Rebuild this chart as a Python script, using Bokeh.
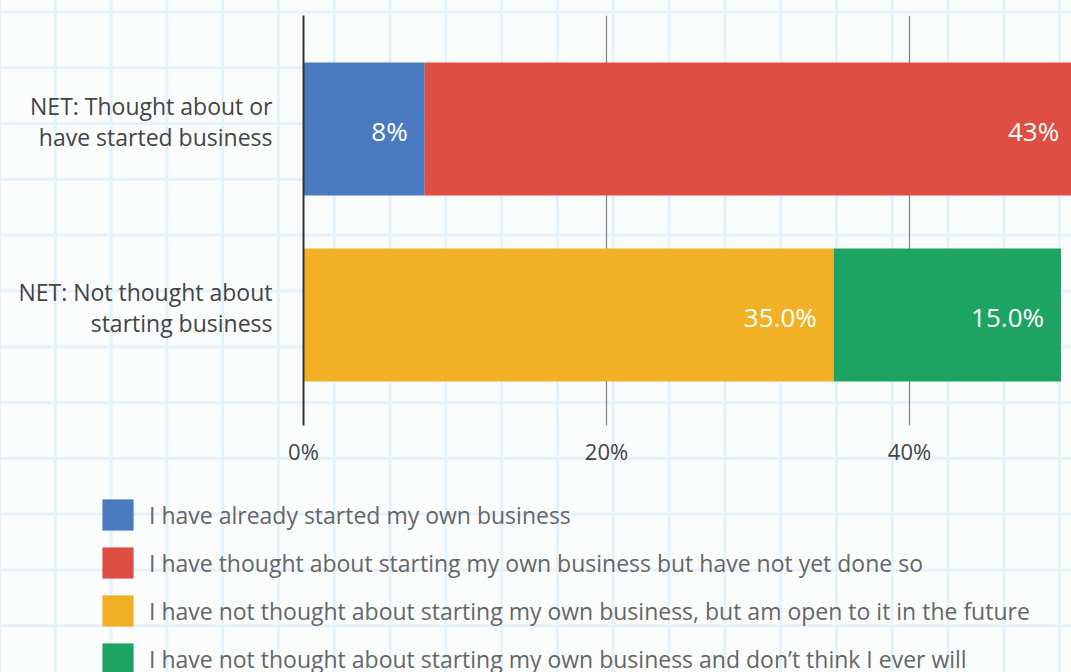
from bokeh.plotting import figure
from bokeh.layouts import column
from bokeh.models import (ColumnDataSource, FixedTicker, PrintfTickFormatter, Legend,
                          LegendItem, Range1d)
from bokeh.core.properties import value
from bokeh.embed import file_html
from bokeh.resources import INLINE

# ---------------- data ----------------
categories = ["NET: Not thought about\nstarting business",
              "NET: Thought about or\nhave started business"]
series_names = ["I have already started my own business",
                "I have thought about starting my own business but have not yet done so",
                "I have not thought about starting my own business, but am open to it in the future",
                "I have not thought about starting my own business and don\u2019t think I ever will"]
started = [0, 8]
thought = [0, 43]
open_future = [35.0, 0]
never = [15.0, 0]
label_formats = ["{:.1f}%", "{:.0f}%"]
x_ticks = [0, 20, 40]
colors = ["#4a7bc0", "#e04e43", "#f2b124", "#1da462"]

FONT = "Open Sans"

ypos = list(range(len(categories)))
keys = ["started", "thought", "open_future", "never"]
src = ColumnDataSource(dict(y=ypos, started=started, thought=thought,
                            open_future=open_future, never=never))

p = figure(width=1071, height=480, output_backend="svg", toolbar_location=None,
           x_range=Range1d(0, 50.69), y_range=Range1d(-0.594, 1.61),
           min_border_left=303, min_border_top=15, min_border_right=0, min_border_bottom=55)
p.background_fill_color = None
p.border_fill_color = None
p.outline_line_color = None
p.frame_align = False

renderers = p.hbar_stack(keys, y="y", height=0.715, color=colors, line_color=None, source=src)

# value labels
lx, ly, lt = [], [], []
vals = [started, thought, open_future, never]
for i in ypos:
    cum = 0
    for v in vals:
        if v[i] > 0:
            cum += v[i]
            lx.append(cum)
            ly.append(i)
            lt.append(label_formats[i].format(v[i]))
lsrc = ColumnDataSource(dict(x=lx, y=ly, t=lt))
p.text(x="x", y="y", text="t", source=lsrc, x_offset=-17, y_offset=2, text_align="right",
       text_baseline="middle", text_color="white", text_font=value(FONT),
       text_font_size="26px")

# axes
p.xgrid.ticker = FixedTicker(ticks=x_ticks)
p.xgrid.grid_line_color = "#808080"
p.xgrid.grid_line_width = 1.2
p.ygrid.grid_line_color = None

xa = p.xaxis[0]
xa.ticker = FixedTicker(ticks=x_ticks)
xa.formatter = PrintfTickFormatter(format="%d%%")
xa.axis_line_color = None
xa.major_tick_line_color = None
xa.minor_tick_line_color = None
xa.major_label_standoff = 4
xa.major_label_text_font = FONT
xa.major_label_text_font_size = "22px"
xa.major_label_text_color = "#444444"

# category labels sit slightly above the bar centres
label_shift = 0.04
label_ticks = [round(i + label_shift, 3) for i in ypos]
ya = p.yaxis[0]
ya.ticker = FixedTicker(ticks=label_ticks)
ya.major_label_overrides = {t: c for t, c in zip(label_ticks, categories)}
ya.axis_line_color = "#333333"
ya.axis_line_width = 2
ya.major_tick_line_color = None
ya.minor_tick_line_color = None
ya.major_label_standoff = 25
ya.major_label_text_font = FONT
ya.major_label_text_font_size = "23px"
ya.major_label_text_color = "#444444"
ya.major_label_text_align = "right"
ya.major_label_text_line_height = 0.95

# legend figure
p2 = figure(width=1071, height=192, output_backend="svg", toolbar_location=None,
            x_range=Range1d(0, 1), y_range=Range1d(0, 1),
            x_axis_location=None, y_axis_location=None, min_border=0)
p2.background_fill_color = None
p2.border_fill_color = None
p2.outline_line_color = None
p2.grid.visible = False
p2.frame_align = False
nan = float("nan")
legend_renderers = [p2.hbar(y=[nan], right=[nan], height=1, color=c, line_color=None) for c in colors]

legend = Legend(items=[LegendItem(label=n, renderers=[r]) for n, r in zip(series_names, legend_renderers)],
                location=(98, -6), orientation="vertical",
                glyph_width=39, glyph_height=39, label_height=39, spacing=9,
                label_standoff=12, padding=0, margin=0,
                border_line_color=None, background_fill_alpha=0,
                label_text_font=FONT, label_text_font_size="23px",
                label_text_color="#666666")
p2.add_layout(legend, "center")

css = """
body {
  background-color: #fbfdfd;
  background-image: linear-gradient(to right, #e6f2fb 0, #e6f2fb 3px, transparent 3px),
                    linear-gradient(to bottom, #e6f2fb 0, #e6f2fb 3px, transparent 3px);
  background-size: 55.8px 55.8px;
  background-position: -2px 10.5px;
}
"""
try:
    from bokeh.models import GlobalInlineStyleSheet
    p.stylesheets = [GlobalInlineStyleSheet(css=css)]
except Exception:
    pass

layout = column(p, p2, spacing=0)
open("out.html", "w").write(file_html(layout, INLINE))
